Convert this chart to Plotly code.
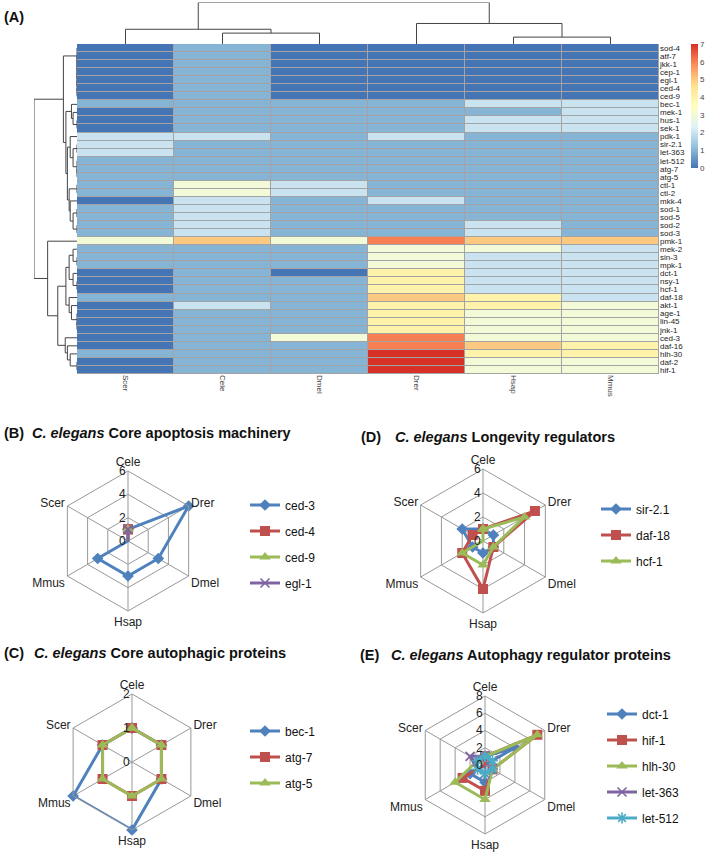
import numpy as np
import plotly.graph_objects as go

W, H = 708, 857

species = ["Scer", "Cele", "Dmel", "Drer", "Hsap", "Mmus"]
genes = ["sod-4", "atf-7", "jkk-1", "cep-1", "egl-1", "ced-4", "ced-9", "bec-1", "mek-1",
         "hus-1", "sek-1", "pdk-1", "sir-2.1", "let-363", "let-512", "atg-7", "atg-5",
         "ctl-1", "ctl-2", "mkk-4", "sod-1", "sod-5", "sod-2", "sod-3", "pmk-1", "mek-2",
         "sin-3", "mpk-1", "dct-1", "nsy-1", "hcf-1", "daf-18", "akt-1", "age-1", "lin-45",
         "jnk-1", "ced-3", "daf-16", "hlh-30", "daf-2", "hif-1"]

scer = [0, 0, 0, 0, 0, 0, 0, 1, 0, 0, 0, 2, 2, 2, 1, 1, 1, 1, 1, 0, 1, 1, 1, 1, 3,
        1, 1, 1, 0, 0, 0, 1, 0, 0, 0, 0, 0, 0, 1, 0, 0]
cele = [1, 1, 1, 1, 1, 1, 1, 1, 1, 1, 1, 2, 1, 1, 1, 1, 1, 3, 3, 2, 2, 2, 2, 2, 5,
        1, 1, 1, 1, 1, 1, 1, 2, 1, 1, 1, 1, 1, 1, 1, 1]
dmel = [0, 0, 0, 0, 0, 0, 0, 1, 1, 1, 1, 1, 1, 1, 1, 1, 1, 2, 2, 1, 1, 1, 1, 1, 3,
        1, 1, 1, 0, 1, 1, 1, 1, 1, 1, 1, 3, 1, 1, 1, 1]
drer = [0, 0, 0, 0, 0, 0, 0, 1, 1, 1, 1, 2, 1, 1, 1, 1, 1, 1, 1, 2, 1, 1, 1, 1, 6,
        3, 3, 3, 4, 4, 4, 5, 4, 4, 4, 4, 6, 6, 7, 7, 7]
hsap = [0, 0, 0, 0, 0, 0, 0, 2, 1, 2, 2, 1, 1, 1, 1, 1, 1, 1, 1, 1, 1, 1, 2, 2, 5,
        3, 2, 2, 2, 2, 2, 4, 4, 3, 3, 3, 3, 5, 4, 3, 3]
mmus = [0, 0, 0, 0, 0, 0, 0, 2, 2, 2, 2, 1, 1, 1, 1, 1, 1, 1, 1, 1, 1, 1, 1, 1, 5,
        2, 2, 2, 2, 2, 2, 2, 3, 3, 3, 3, 3, 4, 4, 3, 3]

cols = {"Scer": scer, "Cele": cele, "Dmel": dmel, "Drer": drer, "Hsap": hsap, "Mmus": mmus}
Z = np.array([cols[s] for s in species], dtype=float).T  # genes x species

heat_colors = ["#4575b4", "#91bfdb", "#e0f3f8", "#ffffbf", "#fee090", "#fc8d59", "#d73027"]
colorscale = [[i / 6, c] for i, c in enumerate(heat_colors)]


def ordered_complete_linkage(X):
    """Complete-linkage clustering restricted to neighbours in the displayed order."""
    n = len(X)
    D = np.sqrt(((X[:, None, :] - X[None, :, :]) ** 2).sum(-1))
    clusters = [{"m": [i], "pos": float(i), "h": 0.0} for i in range(n)]
    segs = []
    while len(clusters) > 1:
        best = None
        for k in range(len(clusters) - 1):
            a, b = clusters[k], clusters[k + 1]
            d = D[np.ix_(a["m"], b["m"])].max()
            if best is None or d <= best[0] + 1e-9:
                best = (d, k)
        d, k = best
        a, b = clusters[k], clusters[k + 1]
        segs.append(((a["pos"], a["h"]), (a["pos"], d), (b["pos"], d), (b["pos"], b["h"])))
        clusters[k:k + 2] = [{"m": a["m"] + b["m"], "pos": (a["pos"] + b["pos"]) / 2, "h": d}]
    return segs, clusters[0]["h"]


row_segs, row_root = ordered_complete_linkage(Z)
col_segs, col_root = ordered_complete_linkage(Z.T)

fig = go.Figure()

# heatmap
HX0, HX1, HY0, HY1 = 77, 659, 44, 374
fig.add_trace(go.Heatmap(
    z=Z, x=list(range(len(species))), y=list(range(len(genes))),
    colorscale=colorscale, zmin=0, zmax=7, xgap=1, ygap=1,
    hoverinfo="skip",
    colorbar=dict(x=691 / W, xanchor="left", y=1 - 44 / H, yanchor="top",
                  len=124 / H, lenmode="fraction", thickness=7, thicknessmode="pixels",
                  outlinewidth=0, tickvals=list(range(8)), ticks="",
                  tickfont=dict(size=8, color="#444", family="Liberation Sans"),
                  xpad=0, ypad=0),
    xaxis="x", yaxis="y"))

# column dendrogram
cx, cy = [], []
for s in col_segs:
    for p in s:
        cx.append(p[0]); cy.append(p[1])
    cx.append(None); cy.append(None)
fig.add_trace(go.Scatter(x=cx, y=cy, mode="lines", line=dict(color="#444", width=1),
                         xaxis="x2", yaxis="y2", showlegend=False, hoverinfo="skip"))
# row dendrogram
rx, ry = [], []
for s in row_segs:
    for p in s:
        rx.append(p[1]); ry.append(p[0])
    rx.append(None); ry.append(None)
fig.add_trace(go.Scatter(x=rx, y=ry, mode="lines", line=dict(color="#444", width=1),
                         xaxis="x3", yaxis="y3", showlegend=False, hoverinfo="skip"))

# radar charts
axis_order = ["Cele", "Drer", "Dmel", "Hsap", "Mmus", "Scer"]
excel = ["#4F81BD", "#C0504D", "#9BBB59", "#8064A2", "#4BACC6"]
symbols = ["diamond", "square", "triangle-up", "x-thin-open", "asterisk-open"]
sizes = [9, 10, 10, 9, 9]

panels = [
    dict(id="polar", legend="legend", genes=["ced-3", "ced-4", "ced-9", "egl-1"],
         rmax=6, ticks=[0, 2, 4, 6], cx=128, cy=541, r=70),
    dict(id="polar2", legend="legend2", genes=["sir-2.1", "daf-18", "hcf-1"],
         rmax=6, ticks=[0, 2, 4, 6], cx=483, cy=541, r=72),
    dict(id="polar3", legend="legend3", genes=["bec-1", "atg-7", "atg-5"],
         rmax=2, ticks=[0, 1, 2], cx=132, cy=762, r=68),
    dict(id="polar4", legend="legend4", genes=["dct-1", "hif-1", "hlh-30", "let-363", "let-512"],
         rmax=8, ticks=[0, 2, 4, 6, 8], cx=485, cy=765, r=69),
]

FONT = "Liberation Sans"
layout_polars = {}
for p in panels:
    for j, g in enumerate(p["genes"]):
        gi = genes.index(g)
        vals = [cols[s][gi] for s in axis_order]
        marker = dict(symbol=symbols[j], size=sizes[j], color=excel[j])
        if symbols[j].endswith("open"):
            marker["line"] = dict(color=excel[j], width=1.6)
        else:
            marker["line"] = dict(width=0)
        fig.add_trace(go.Scatterpolar(
            r=vals + [vals[0]], theta=axis_order + [axis_order[0]],
            mode="lines+markers", line=dict(color=excel[j], width=3), marker=marker,
            name=g, subplot=p["id"], legend=p["legend"], legendgroup=g, hoverinfo="skip"))
    layout_polars[p["id"]] = dict(
        domain=dict(x=[(p["cx"] - p["r"]) / W, (p["cx"] + p["r"]) / W],
                    y=[1 - (p["cy"] + p["r"]) / H, 1 - (p["cy"] - p["r"]) / H]),
        gridshape="linear", bgcolor="white",
        angularaxis=dict(rotation=90, direction="clockwise", categoryorder="array",
                         categoryarray=axis_order, linecolor="#999", gridcolor="#999",
                         showline=True, ticks="",
                         tickfont=dict(size=12, family=FONT, color="#222")),
        radialaxis=dict(range=[0, p["rmax"]], tickvals=p["ticks"], angle=90,
                        side="counterclockwise", showline=False, gridcolor="#999",
                        ticks="", tickangle=90,
                        tickfont=dict(size=12, family=FONT, color="#222")),
    )

legend_pos = {"legend": (245, 544), "legend2": (596, 535), "legend3": (245, 757), "legend4": (602, 766)}
legends = {}
for k, (lx, ly) in legend_pos.items():
    legends[k] = dict(x=lx / W, y=1 - ly / H, xanchor="left", yanchor="middle",
                      font=dict(size=12, family=FONT, color="#111"), tracegroupgap=7,
                      bgcolor="rgba(0,0,0,0)", borderwidth=0, itemwidth=30)

annotations = []
titles = [
    ("(A)", None, 2, 17, None),
    ("(B)", "Core apoptosis machinery", 2, 433, 30),
    ("(D)", "Longevity regulators", 359, 437, 393),
    ("(C)", "Core autophagic proteins", 2, 653, 32),
    ("(E)", "Autophagy regulator proteins", 358, 655, 389),
]
for lab, txt, lx, ly, tx in titles:
    annotations.append(dict(text="<b>%s</b>" % lab, x=lx / W, y=1 - ly / H, xref="paper",
                            yref="paper", xanchor="left", yanchor="middle", showarrow=False,
                            font=dict(size=14.5, family=FONT, color="#111")))
    if txt:
        annotations.append(dict(text="<b><i>C. elegans</i> %s</b>" % txt, x=tx / W,
                                y=1 - ly / H, xref="paper", yref="paper", xanchor="left",
                                yanchor="middle", showarrow=False,
                                font=dict(size=14.5, family=FONT, color="#111")))

fig.update_layout(
    width=W, height=H, margin=dict(l=0, r=0, t=0, b=0),
    paper_bgcolor="white", plot_bgcolor="white",
    xaxis=dict(domain=[HX0 / W, HX1 / W], range=[-0.5, len(species) - 0.5],
               tickvals=list(range(len(species))), ticktext=species, tickangle=90,
               tickfont=dict(size=8, color="#444", family=FONT), showgrid=False,
               zeroline=False, ticks="", anchor="y"),
    yaxis=dict(domain=[1 - HY1 / H, 1 - HY0 / H], range=[len(genes) - 0.5, -0.5],
               tickvals=list(range(len(genes))), ticktext=genes, side="right",
               tickfont=dict(size=8, color="#222", family=FONT), showgrid=False,
               zeroline=False, ticks="", anchor="x"),
    xaxis2=dict(domain=[HX0 / W, HX1 / W], range=[-0.5, len(species) - 0.5], visible=False,
                anchor="y2"),
    yaxis2=dict(domain=[1 - HY0 / H, 1 - 2.5 / H], range=[0, col_root], visible=False,
                anchor="x2"),
    xaxis3=dict(domain=[34 / W, HX0 / W], range=[row_root, 0], visible=False, anchor="y3"),
    yaxis3=dict(domain=[1 - HY1 / H, 1 - HY0 / H], range=[len(genes) - 0.5, -0.5],
                visible=False, anchor="x3"),
    shapes=[dict(type="rect", xref="x", yref="y", x0=-0.5, x1=len(species) - 0.5,
                 y0=-0.5, y1=len(genes) - 0.5, fillcolor="#a3a3a3",
                 line=dict(color="#a3a3a3", width=1), layer="below")],
    annotations=annotations,
    **layout_polars, **legends,
)

fig.write_html("out.html", config={"displayModeBar": False},
               post_script="document.body.style.margin='0px';document.body.style.overflow='hidden';")
